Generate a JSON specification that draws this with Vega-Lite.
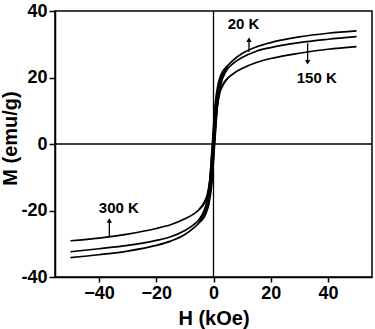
{
  "$schema": "https://vega.github.io/schema/vega-lite/v6.json",
  "width": 317,
  "height": 266,
  "autosize": "none",
  "padding": {"left": 55, "top": 11, "right": 3, "bottom": 52},
  "background": "white",
  "config": {
    "view": {"stroke": "black", "strokeWidth": 1.5},
    "font": "Liberation Sans",
    "axis": {
      "grid": false,
      "domainColor": "black",
      "domainWidth": 1.5,
      "tickColor": "black",
      "tickWidth": 1.5,
      "labelColor": "black",
      "labelFont": "Liberation Sans",
      "labelFontSize": 18,
      "labelFontWeight": "bold",
      "titleColor": "black",
      "titleFont": "Liberation Sans",
      "titleFontSize": 20,
      "titleFontWeight": "bold"
    }
  },
  "datasets": {
    "curves": [
      {"s": "20d", "H": -50, "M": -34.2}, {"s": "20d", "H": -40, "M": -33.3}, {"s": "20d", "H": -30, "M": -32.2}, {"s": "20d", "H": -20, "M": -30.5}, {"s": "20d", "H": -15, "M": -29.2}, {"s": "20d", "H": -10, "M": -27.2}, {"s": "20d", "H": -7, "M": -25.3}, {"s": "20d", "H": -5, "M": -23.6},
      {"s": "20d", "H": -3.4, "M": -20.8}, {"s": "20d", "H": -2.4, "M": -18}, {"s": "20d", "H": -1.4, "M": -12}, {"s": "20d", "H": -0.4, "M": 0}, {"s": "20d", "H": 0.6, "M": 12}, {"s": "20d", "H": 1.6, "M": 18}, {"s": "20d", "H": 2.6, "M": 20.8},
      {"s": "20d", "H": 5, "M": 23.6}, {"s": "20d", "H": 7, "M": 25.3}, {"s": "20d", "H": 10, "M": 27.2}, {"s": "20d", "H": 15, "M": 29.2}, {"s": "20d", "H": 20, "M": 30.5}, {"s": "20d", "H": 30, "M": 32.2}, {"s": "20d", "H": 40, "M": 33.3}, {"s": "20d", "H": 50, "M": 34},
      {"s": "20a", "H": -5, "M": -23.6}, {"s": "20a", "H": -2.6, "M": -20.8}, {"s": "20a", "H": -1.6, "M": -18}, {"s": "20a", "H": -0.6, "M": -12}, {"s": "20a", "H": 0.4, "M": 0}, {"s": "20a", "H": 1.4, "M": 12}, {"s": "20a", "H": 2.4, "M": 18}, {"s": "20a", "H": 3.4, "M": 20.8}, {"s": "20a", "H": 5, "M": 23.6},

      {"s": "150d", "H": -50, "M": -32.4}, {"s": "150d", "H": -40, "M": -31.5}, {"s": "150d", "H": -30, "M": -30.5}, {"s": "150d", "H": -20, "M": -29}, {"s": "150d", "H": -15, "M": -27.9}, {"s": "150d", "H": -10, "M": -26}, {"s": "150d", "H": -7, "M": -24.3}, {"s": "150d", "H": -5, "M": -22.7},
      {"s": "150d", "H": -3.3, "M": -20}, {"s": "150d", "H": -2.3, "M": -17.2}, {"s": "150d", "H": -1.3, "M": -11.4}, {"s": "150d", "H": -0.3, "M": 0}, {"s": "150d", "H": 0.7, "M": 11.4}, {"s": "150d", "H": 1.7, "M": 17.2}, {"s": "150d", "H": 2.7, "M": 20},
      {"s": "150d", "H": 5, "M": 22.7}, {"s": "150d", "H": 7, "M": 24.3}, {"s": "150d", "H": 10, "M": 26}, {"s": "150d", "H": 15, "M": 27.9}, {"s": "150d", "H": 20, "M": 29}, {"s": "150d", "H": 30, "M": 30.5}, {"s": "150d", "H": 40, "M": 31.5}, {"s": "150d", "H": 50, "M": 32.3},
      {"s": "150a", "H": -5, "M": -22.7}, {"s": "150a", "H": -2.7, "M": -20}, {"s": "150a", "H": -1.7, "M": -17.2}, {"s": "150a", "H": -0.7, "M": -11.4}, {"s": "150a", "H": 0.3, "M": 0}, {"s": "150a", "H": 1.3, "M": 11.4}, {"s": "150a", "H": 2.3, "M": 17.2}, {"s": "150a", "H": 3.3, "M": 20}, {"s": "150a", "H": 5, "M": 22.7},

      {"s": "300d", "H": -50, "M": -29.1}, {"s": "300d", "H": -40, "M": -28.3}, {"s": "300d", "H": -30, "M": -27.1}, {"s": "300d", "H": -20, "M": -25.4}, {"s": "300d", "H": -15, "M": -24.3}, {"s": "300d", "H": -10, "M": -22.5}, {"s": "300d", "H": -7, "M": -21.1}, {"s": "300d", "H": -5, "M": -19.7},
      {"s": "300d", "H": -3.15, "M": -17.3}, {"s": "300d", "H": -2.15, "M": -15.1}, {"s": "300d", "H": -1.15, "M": -10}, {"s": "300d", "H": -0.15, "M": 0}, {"s": "300d", "H": 0.85, "M": 10}, {"s": "300d", "H": 1.85, "M": 15.2}, {"s": "300d", "H": 2.85, "M": 17.4},
      {"s": "300d", "H": 5, "M": 19.8}, {"s": "300d", "H": 7, "M": 21.2}, {"s": "300d", "H": 10, "M": 22.7}, {"s": "300d", "H": 15, "M": 24.5}, {"s": "300d", "H": 20, "M": 25.7}, {"s": "300d", "H": 30, "M": 27.3}, {"s": "300d", "H": 40, "M": 28.5}, {"s": "300d", "H": 50, "M": 29.3},
      {"s": "300a", "H": -5, "M": -19.7}, {"s": "300a", "H": -2.85, "M": -17.3}, {"s": "300a", "H": -1.85, "M": -15.1}, {"s": "300a", "H": -0.85, "M": -10}, {"s": "300a", "H": 0.15, "M": 0}, {"s": "300a", "H": 1.15, "M": 10}, {"s": "300a", "H": 2.15, "M": 15.2}, {"s": "300a", "H": 3.15, "M": 17.4}, {"s": "300a", "H": 5, "M": 19.8}
    ],
    "arrows": [
      {"H": 12.4, "M": 27.7, "M2": 31.0},
      {"H": 32.9, "M": 30.3, "M2": 25.0},
      {"H": -36.4, "M": -28.1, "M2": -23.4}
    ],
    "heads": [
      {"H": 12.4, "M": 31.4, "dir": "up"},
      {"H": 32.9, "M": 24.6, "dir": "down"},
      {"H": -36.4, "M": -23.0, "dir": "up"}
    ],
    "labels": [
      {"H": 10.5, "M": 36.1, "t": "20 K"},
      {"H": 36.1, "M": 20.0, "t": "150 K"},
      {"H": -33.1, "M": -19.1, "t": "300 K"}
    ],
    "origin": [{"H": 0, "M": 0}]
  },
  "layer": [
    {
      "data": {"name": "curves"},
      "mark": {"type": "line", "color": "black", "strokeWidth": 1.7, "interpolate": "monotone"},
      "encoding": {
        "x": {
          "field": "H", "type": "quantitative",
          "scale": {"domain": [-55.4, 55.4], "nice": false, "zero": false},
          "axis": {
            "title": "H (kOe)",
            "tickCount": 6,
            "labelColor": "black",
            "titlePadding": 6
          }
        },
        "y": {
          "field": "M", "type": "quantitative",
          "scale": {"domain": [-40, 40], "nice": false, "zero": false},
          "axis": {
            "title": "M (emu/g)",
            "values": [-40, -30, -20, -10, 0, 10, 20, 30, 40],
            "labelExpr": "datum.value % 20 === 0 ? '' + datum.value : ''",
            "tickSize": {"condition": {"test": "datum.value % 20 !== 0", "value": 3}, "value": 6},
            "labelPadding": 2,
            "labelOverlap": false,
            "titleAngle": -90,
            "titleX": -45,
            "titleY": 127,
            "titleAlign": "center",
            "titleBaseline": "middle"
          }
        },
        "detail": {"field": "s", "type": "nominal"}
      }
    },
    {
      "data": {"name": "origin"},
      "mark": {"type": "rule", "color": "black", "strokeWidth": 1.3},
      "encoding": {"x": {"field": "H", "type": "quantitative"}}
    },
    {
      "data": {"name": "origin"},
      "mark": {"type": "rule", "color": "black", "strokeWidth": 1.3},
      "encoding": {"y": {"field": "M", "type": "quantitative"}}
    },
    {
      "data": {"name": "arrows"},
      "mark": {"type": "rule", "color": "black", "strokeWidth": 1.3},
      "encoding": {
        "x": {"field": "H", "type": "quantitative"},
        "y": {"field": "M", "type": "quantitative"},
        "y2": {"field": "M2"}
      }
    },
    {
      "data": {"name": "heads"},
      "mark": {"type": "point", "filled": true, "color": "black", "opacity": 1, "size": 28},
      "encoding": {
        "x": {"field": "H", "type": "quantitative"},
        "y": {"field": "M", "type": "quantitative"},
        "shape": {
          "field": "dir", "type": "nominal",
          "scale": {"domain": ["up", "down"], "range": ["triangle-up", "triangle-down"]},
          "legend": null
        }
      }
    },
    {
      "data": {"name": "labels"},
      "mark": {"type": "text", "font": "Liberation Sans", "fontSize": 15, "fontWeight": "bold", "color": "black", "align": "center", "baseline": "middle"},
      "encoding": {
        "x": {"field": "H", "type": "quantitative"},
        "y": {"field": "M", "type": "quantitative"},
        "text": {"field": "t"}
      }
    }
  ]
}
